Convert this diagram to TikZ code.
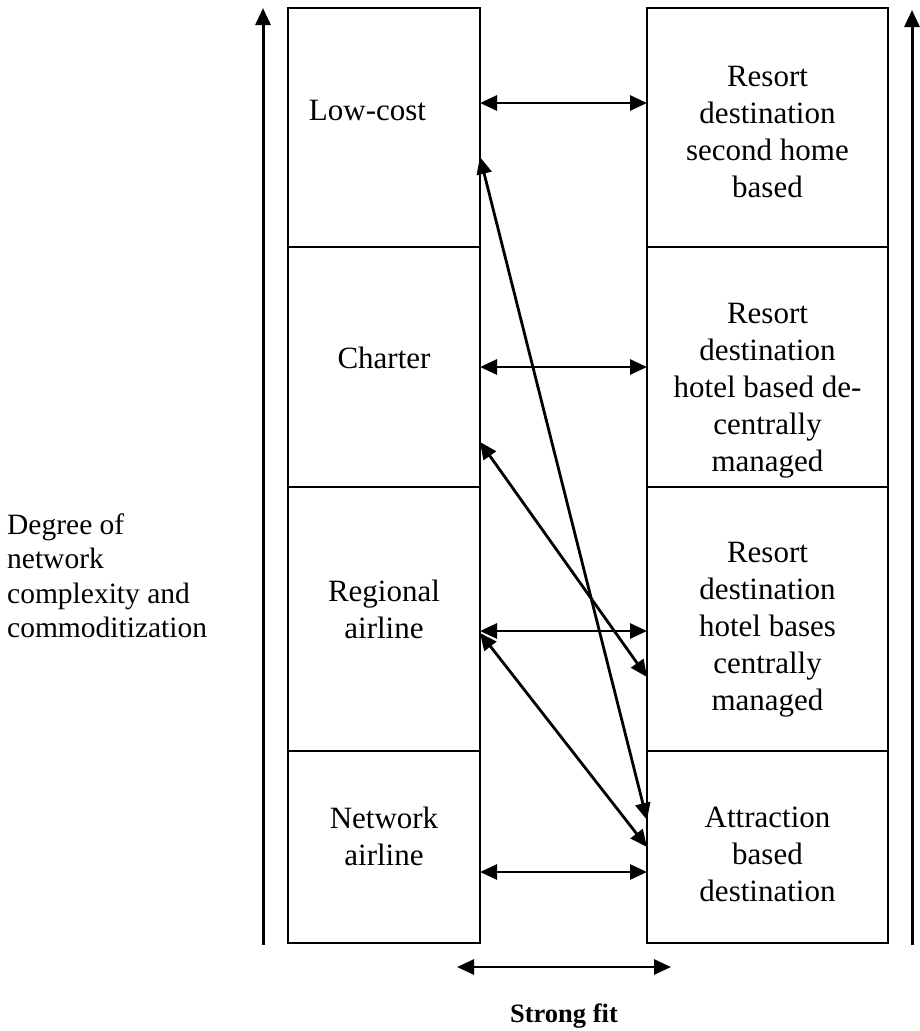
\documentclass[tikz,border=0pt]{standalone}
\usepackage{fontspec}
\setmainfont{Liberation Serif}
\usetikzlibrary{arrows.meta}
\begin{document}
\begin{tikzpicture}[x=1pt,y=-1pt,
  lbox/.style={draw, line width=2pt, inner sep=0pt, outer sep=0pt, minimum width=192pt},
  rbox/.style={draw, line width=2pt, inner sep=0pt, outer sep=0pt, minimum width=241pt},
  txt/.style={align=center, inner sep=0pt, font={\fontsize{31}{37}\selectfont}},
  link/.style={line width=2.8pt, {Triangle[length=17pt,width=15pt]}-{Triangle[length=17pt,width=15pt]}},
  axis/.style={line width=3pt, -{Triangle[length=17pt,width=15pt]}}]
\useasboundingbox (0,0) rectangle (920,1031);
% left column
\node[lbox, minimum height=239pt] (L1) at (384,127.5) {};
\node[lbox, minimum height=240pt] (L2) at (384,367) {};
\node[lbox, minimum height=264pt] (L3) at (384,619) {};
\node[lbox, minimum height=192pt] (L4) at (384,847) {};
% right column
\node[rbox, minimum height=239pt] (R1) at (767.5,127.5) {};
\node[rbox, minimum height=240pt] (R2) at (767.5,367) {};
\node[rbox, minimum height=264pt] (R3) at (767.5,619) {};
\node[rbox, minimum height=192pt] (R4) at (767.5,847) {};
% texts
\node[txt] (t1) at (367.5,110) {Low-cost};
\node[txt] (t2) at (384,358) {Charter};
\node[txt] (t3) at (384,609) {Regional\\airline};
\node[txt] (t4) at (384,836) {Network\\airline};
\node[txt] (u1) at (767.5,131.5) {Resort\\destination\\second home\\based};
\node[txt] (u2) at (767.5,390.5) {Resort\\destination\\hotel based de-\\centrally\\managed};
\node[txt] (u3) at (767.5,630) {Resort\\destination\\hotel bases\\centrally\\managed};
\node[txt] (u4) at (767.5,854) {Attraction\\based\\destination};
\node[align=left, inner sep=0pt, anchor=west, font={\fontsize{29.5}{34.5}\selectfont}] (deg) at (7,575.5) {Degree of\\network\\complexity and\\commoditization};
\node[inner sep=0pt, font={\fontsize{26.5}{30}\selectfont\bfseries}] (fit) at (564,1016) {Strong fit};
% horizontal links
\draw[link] ([yshift=24.5pt]L1.east) -- ([yshift=24.5pt]R1.west);
\draw[link] (L2.east) -- (R2.west);
\draw[link] ([yshift=-12pt]L3.east) -- ([yshift=-12pt]R3.west);
\draw[link] ([yshift=-25pt]L4.east) -- ([yshift=-25pt]R4.west);
% diagonal links
\draw[link] ([yshift=-29.5pt]L1.east) -- ([yshift=27pt]R4.west);
\draw[link] ([yshift=-75pt]L2.east) -- ([yshift=-58pt]R3.west);
\draw[link] ([yshift=-14pt]L3.east) -- (R4.west);
% axes
\coordinate (la0) at (263,945);
\coordinate (la1) at (263,8);
\coordinate (ra0) at (912,945);
\coordinate (ra1) at (912,10);
\draw[axis] (la0) -- (la1);
\draw[axis] (ra0) -- (ra1);
% strong fit arrow
\coordinate (sf0) at (457,967);
\coordinate (sf1) at (671,967);
\draw[link] (sf0) -- (sf1);
\end{tikzpicture}
\end{document}
